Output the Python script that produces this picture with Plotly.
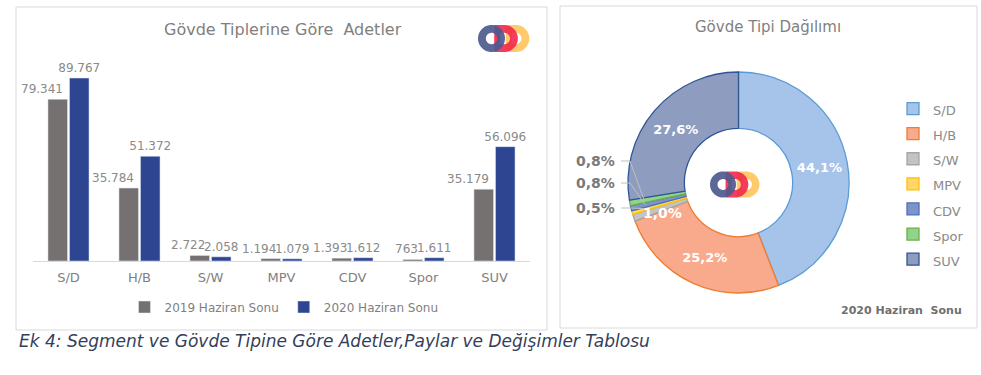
import numpy as np
import plotly.graph_objects as go

# ---------------- data ----------------
categories = ["S/D", "H/B", "S/W", "MPV", "CDV", "Spor", "SUV"]
series_2019_name = "2019 Haziran Sonu"
series_2020_name = "2020 Haziran Sonu"
values_2019 = [79341, 35784, 2722, 1194, 1393, 763, 35179]
values_2020 = [89767, 51372, 2058, 1079, 1612, 1611, 56096]

bar_title = "Gövde Tiplerine Göre  Adetler"
pie_title = "Gövde Tipi Dağılımı"
pie_subtitle = "2020 Haziran  Sonu"
caption = "Ek 4: Segment ve Gövde Tipine Göre Adetler,Paylar ve Değişimler Tablosu"

pie_fill = ["#a6c4ea", "#f9aa8c", "#c3c3c3", "#ffd766", "#7f93c6", "#8ed48a", "#8d9cbf"]
pie_line = ["#5b9bd5", "#ed7d31", "#a5a5a5", "#ffc000", "#4472c4", "#70ad47", "#2f5597"]

W, H = 981, 375
def px(x):
    return x / W
def py(y):
    return 1 - y / H

FONT = "DejaVu Sans"
GRAY = "#8a8a8a"

fig = go.Figure()

fig.add_trace(go.Bar(
    x=categories, y=values_2019, name=series_2019_name,
    marker=dict(color="#767171"),
    legend="legend", cliponaxis=False,
))
fig.add_trace(go.Bar(
    x=categories, y=values_2020, name=series_2020_name,
    marker=dict(color="#2e4592"),
    texttemplate="%{y:,}", textposition="outside", textangle=0,
    constraintext="none", cliponaxis=False,
    textfont=dict(family=FONT, size=12, color=GRAY),
    legend="legend",
))

annotations = []
shapes = []

# 2019 value labels, anchored at the data points (right-aligned near the bar edge)
for c, v in zip(categories, values_2019):
    annotations.append(dict(
        x=c, y=v, xref="x", yref="y", text=f"{v:,}".replace(",", "."),
        showarrow=False, xanchor="right", yanchor="bottom", xshift=-4, yshift=1,
        font=dict(family=FONT, size=12, color=GRAY)))

total = sum(values_2020)
fracs = [v / total for v in values_2020]
pie_texttemplate = ["%{percent:.1%}" if f > 0.05 else "" for f in fracs]

fig.add_trace(go.Pie(
    labels=['<span style="font-size:13px">' + c + '</span>' for c in categories],
    values=values_2020,
    hole=0.49, sort=False, direction="clockwise", rotation=0,
    marker=dict(colors=pie_fill, line=dict(color=pie_line, width=1.3)),
    texttemplate=pie_texttemplate, textposition="inside",
    insidetextorientation="horizontal",
    insidetextfont=dict(family=FONT, size=13, color="white", weight="bold"),
    domain=dict(x=[px(628), px(849)], y=[py(293), py(72)]),
    legend="legend2", showlegend=True,
))

# panel borders
shapes.append(dict(type="rect", xref="paper", yref="paper",
                   x0=px(16), x1=px(547), y0=py(330), y1=py(7),
                   line=dict(color="#d9d9d9", width=1)))
shapes.append(dict(type="rect", xref="paper", yref="paper",
                   x0=px(560), x1=px(977), y0=py(328), y1=py(6),
                   line=dict(color="#d9d9d9", width=1)))

# titles
annotations.append(dict(text=bar_title, x=px(283), y=py(29), xref="paper", yref="paper",
                        xanchor="center", yanchor="middle", showarrow=False,
                        font=dict(family=FONT, size=16, color="#7f7f7f")))
annotations.append(dict(text=pie_title, x=px(768), y=py(27), xref="paper", yref="paper",
                        xanchor="center", yanchor="middle", showarrow=False,
                        font=dict(family=FONT, size=15, color="#7f7f7f")))
annotations.append(dict(text=pie_subtitle, x=px(964), y=py(310), xref="paper", yref="paper",
                        xanchor="right", yanchor="middle", showarrow=False,
                        font=dict(family=FONT, size=11, color="#6f6f6f", weight="bold")))
annotations.append(dict(text="<i>" + caption + "</i>", x=px(17), y=py(341), xref="paper", yref="paper",
                        xanchor="left", yanchor="middle", showarrow=False,
                        font=dict(family=FONT, size=17, color="#34405a")))

# small-slice labels (values derived from data)
cx, cy = 738.5, 182.5
cum = np.cumsum([0] + fracs)
label_y = {2: 213, 3: 208, 4: 183, 5: 161}
for i, f in enumerate(fracs):
    if f > 0.05:
        continue
    txt = f"{f*100:.1f}%".replace(".", ",")
    mid = (cum[i] + cum[i + 1]) / 2 * 2 * np.pi
    ex, ey = cx + 96 * np.sin(mid), cy - 96 * np.cos(mid)
    if i == 2:
        annotations.append(dict(text=txt, x=px(662), y=py(label_y[i]), xref="paper", yref="paper",
                                xanchor="center", yanchor="middle", showarrow=False,
                                font=dict(family=FONT, size=14, color="white", weight="bold")))
    else:
        ly = label_y[i]
        annotations.append(dict(text=txt, x=px(617), y=py(ly), xref="paper", yref="paper",
                                xanchor="right", yanchor="middle", showarrow=False,
                                font=dict(family=FONT, size=14, color="#7a7a7a", weight="bold")))
        shapes.append(dict(type="path", xref="paper", yref="paper",
                           path=f"M{px(621)},{py(ly)} L{px(630)},{py(ly)} L{px(ex)},{py(ey)}",
                           line=dict(color="#bfbfbf", width=1)))

# logo helper
def circle_pts(xc, yc, r, a0, a1, n=40):
    t = np.linspace(a0, a1, n)
    return [(xc + r * np.cos(a), yc + r * np.sin(a)) for a in t]

def to_path(pts):
    return "M" + " L".join(f"{px(x):.5f},{py(y):.5f}" for x, y in pts) + " Z"

def add_logo(x0, yc, h):
    r = h / 2
    ri = r * 0.42
    def d_shape(xl, color):
        xc = xl + r * 0.75
        outer = [(xl, yc - r)] + circle_pts(xc, yc, r, -np.pi / 2, np.pi / 2) + [(xl, yc + r)]
        inner = [(xl + r * 0.45, yc - ri)] + circle_pts(xc, yc, ri, -np.pi / 2, np.pi / 2) + [(xl + r * 0.45, yc + ri)]
        shapes.append(dict(type="path", xref="paper", yref="paper",
                           path=to_path(outer) + " " + to_path(inner[::-1]),
                           fillcolor=color, line=dict(width=0), opacity=0.9, fillrule="evenodd"))
    d_shape(x0 + 2.05 * r, "#ffc35c")
    d_shape(x0 + 1.2 * r, "#f2284b")
    outer = circle_pts(x0 + r, yc, r, 0, 2 * np.pi, 60)
    inner = circle_pts(x0 + r, yc, ri, 0, 2 * np.pi, 40)
    shapes.append(dict(type="path", xref="paper", yref="paper",
                       path=to_path(outer) + " " + to_path(inner[::-1]),
                       fillcolor="#4d5a8e", line=dict(width=0), opacity=0.92, fillrule="evenodd"))

add_logo(478, 38.5, 27)
add_logo(710, 184.5, 26)

fig.update_layout(
    width=W, height=H,
    margin=dict(l=0, r=0, t=0, b=0),
    paper_bgcolor="white", plot_bgcolor="white",
    separators=",.",
    barmode="group", bargap=0.394, bargroupgap=0.09,
    font=dict(family=FONT, color=GRAY),
    xaxis=dict(domain=[px(33), px(530)], range=[-0.5, len(categories) - 0.5],
               showline=True, linecolor="#d9d9d9", linewidth=1,
               ticks="", showgrid=False, tickfont=dict(family=FONT, size=13, color="#7f7f7f"),
               ticklabelstandoff=4, fixedrange=True),
    yaxis=dict(domain=[py(261), py(50)], range=[0, (261 - 50) / (183 / 89767)],
               visible=False, showgrid=False, fixedrange=True),
    legend=dict(orientation="h", x=px(284), xanchor="center", y=py(307), yanchor="middle",
                font=dict(family=FONT, size=12, color="#7f7f7f"), bgcolor="rgba(0,0,0,0)"),
    legend2=dict(orientation="v", x=px(893), xanchor="left", y=py(91), yanchor="top",
                 font=dict(family=FONT, size=17, color="#8a8a8a"), bgcolor="rgba(0,0,0,0)"),
    shapes=shapes, annotations=annotations,
    showlegend=True,
)

fig.write_html("out.html", config={"displayModeBar": False},
               post_script="document.body.style.margin='0px';")
